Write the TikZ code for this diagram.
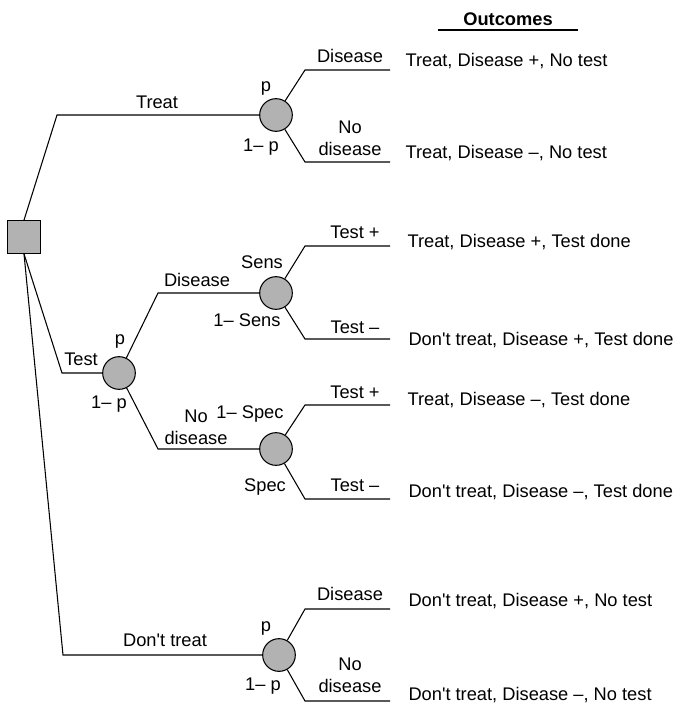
\documentclass[tikz,border=0pt]{standalone}
\usepackage{fontspec}
\setmainfont{Liberation Sans}
\usetikzlibrary{positioning}

\begin{document}
\begin{tikzpicture}[x=0.75pt,y=-0.75pt,line width=0.8pt,
    every node/.style={font=\fontsize{13.7}{16}\selectfont, inner sep=0pt},
    decision/.style={draw, rectangle, fill=black!30, minimum size=24.5pt},
    chance/.style={draw, circle, fill=black!30, minimum size=24.5pt},
    lbl/.style={anchor=base},
    lbltwo/.style={anchor=south, align=center},
    outcome/.style={anchor=base west}]
\def\fnt{\fontsize{13.7}{16}\selectfont}
\def\dont{Don\textquotesingle t}
\useasboundingbox (0,0) rectangle (680,703);

    \node[decision] (dec) at (24,237) {};
    \node[chance] (cTreat) at (276,115) {};
    \node[chance] (cTest) at (119,373) {};
    \node[chance] (cSens) at (276,293) {};
    \node[chance] (cSpec) at (276,449) {};
    \node[chance] (cNo) at (279,655) {};

    \coordinate (kTreat) at (57,115);
    \coordinate (kTest) at (62,373);
    \coordinate (kNo) at (63,655);
    \coordinate (kDis) at (158,293);
    \coordinate (kNoDis) at (158,449);

    \draw (dec.north) -- (kTreat) -- (cTreat);
    \draw (dec.south) -- (kTest) -- (cTest);
    \draw (dec.south) -- (kNo) -- (cNo);
    \draw (cTest) -- (kDis) -- (cSens);
    \draw (cTest) -- (kNoDis) -- (cSpec);

    \foreach \c/\u/\d [count=\i] in {cTreat/70/162, cSens/246/339, cSpec/405/499, cNo/609/701}
    {
      \draw (\c) -- (305,\u) -- (390,\u) coordinate (end\i-a);
      \draw (\c) -- (305,\d) -- (390,\d) coordinate (end\i-b);
    }

    % choice labels
    \node[lbl] (lTreat) at (157,108) {Treat};
    \node[lbl] (lTest) at (81,365) {Test};
    \node[lbl] (lNo) at (165,646) {\dont{} treat};
    \node[lbl] (lDis) at (197,286) {Disease};
    \node[lbltwo] (lNoDis) at (196,445) {No\\disease};

    % probabilities
    \node[lbl] (pTreat) at (266,91) {p};
    \node[lbl] (qTreat) at (261,151) {1– p};
    \node[lbl] (pTest) at (120,344) {p};
    \node[lbl] (qTest) at (109,408) {1– p};
    \node[lbl] (pSens) at (262,268) {Sens};
    \node[lbl] (qSens) at (247,326) {1– Sens};
    \node[lbl] (qSpec) at (250,418) {1– Spec};
    \node[lbl] (pSpec) at (265,491) {Spec};
    \node[lbl] (pNo) at (266,631) {p};
    \node[lbl] (qNo) at (263,690) {1– p};

    % end branches
    \node[lbl] (bT1) at (350,62) {Disease};
    \node[lbltwo] (bT2) at (350,156) {No\\disease};
    \node[lbl] (bS1) at (355,238) {Test +};
    \node[lbl] (bS2) at (355,333) {Test –};
    \node[lbl] (bP1) at (355,398) {Test +};
    \node[lbl] (bP2) at (355,491) {Test –};
    \node[lbl] (bN1) at (350,600) {Disease};
    \node[lbltwo] (bN2) at (350,693) {No\\disease};

    \node[lbl,font=\fnt\bfseries] (head) at (508,25) {Outcomes};
    \draw ([shift={(-70,5)}]head.base) -- ([shift={(70,5)}]head.base);

    \node[outcome] (o1) at (405,66) {Treat, Disease +, No test};
    \node[outcome] (o2) at (405,158) {Treat, Disease –, No test};
    \node[outcome] (o3) at (407,247) {Treat, Disease +, Test done};
    \node[outcome] (o4) at (408,345) {\dont{} treat, Disease +, Test done};
    \node[outcome] (o5) at (407,405) {Treat, Disease –, Test done};
    \node[outcome] (o6) at (408,497) {\dont{} treat, Disease –, Test done};
    \node[outcome] (o7) at (408,606) {\dont{} treat, Disease +, No test};
    \node[outcome] (o8) at (408,700) {\dont{} treat, Disease –, No test};

\end{tikzpicture}
\end{document}
